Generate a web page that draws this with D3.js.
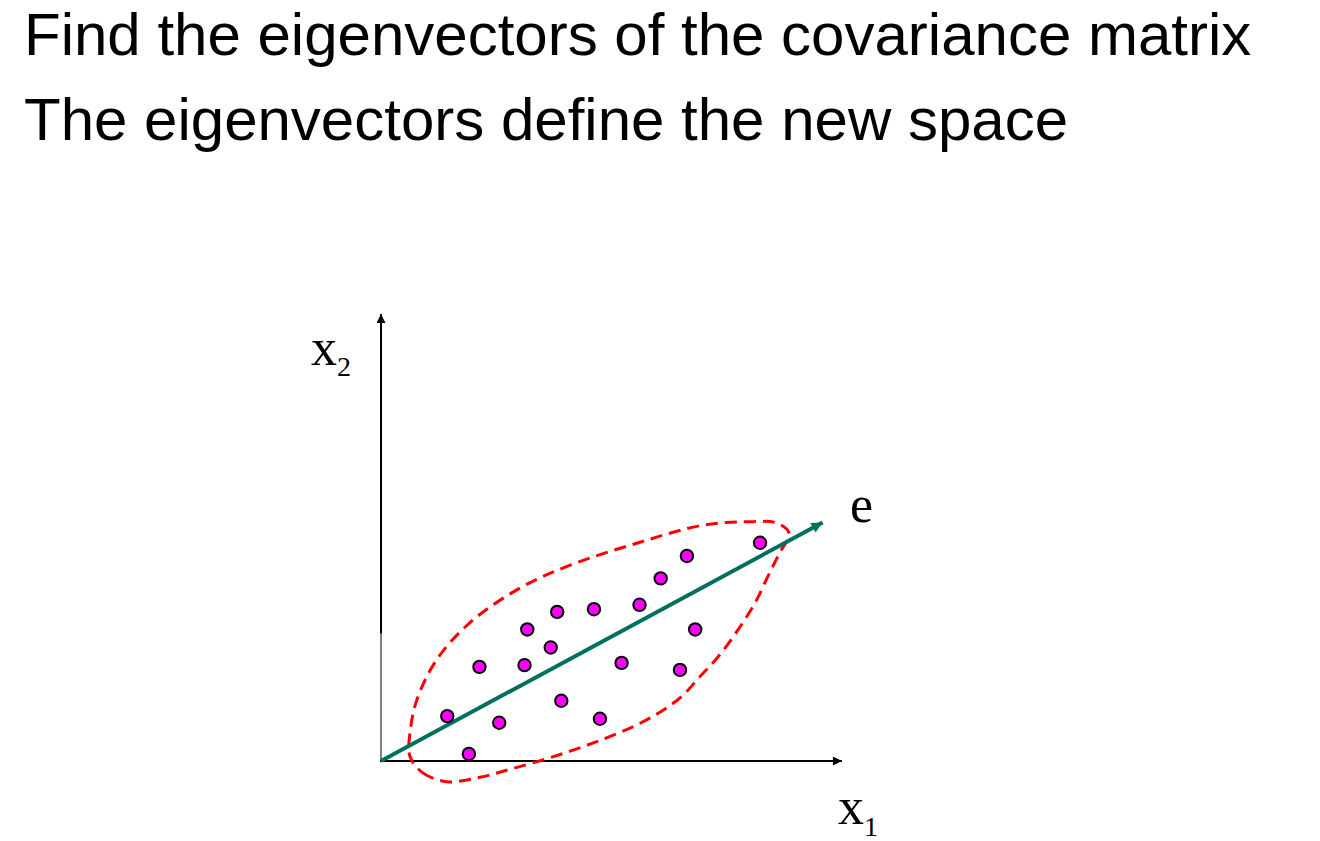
<!DOCTYPE html>
<html>
<head>
<meta charset="utf-8">
<script src="https://cdn.jsdelivr.net/npm/d3@7"></script>
<style>
  html, body { margin: 0; padding: 0; background: #ffffff; }
  svg { display: block; }
</style>
</head>
<body>
<svg id="chart" width="1320" height="841"></svg>
<script>
// ---- Data ----
const titleLines = ["Find the eigenvectors of the covariance matrix", "The eigenvectors define the new space"];

// scatter points (x1, x2) in data units
const pointsX = [82.4, 66.5, 60.8, 56.2, 46.3, 38.3, 31.8, 68.3, 36.9, 21.4, 31.2, 52.3, 65.0, 14.4, 25.7, 39.2, 47.6, 19.1];
const pointsY = [49.6, 46.6, 41.5, 35.5, 34.5, 33.9, 29.9, 29.9, 25.8, 21.4, 21.8, 22.3, 20.7, 10.2, 8.7, 13.7, 9.6, 1.6];

// dashed outline around the points
const outlineX = [6.3, 9.1, 14.3, 21.5, 28.0, 37.5, 46.9, 55.6, 61.4, 65.7, 69.0, 73.3, 77.6, 81.3, 83.9, 86.4, 88.7, 86.0, 80.9, 70.0, 55.6, 41.1, 30.2, 19.3, 12.1, 7.8, 6.3];
const outlineY = [1.0, -2.7, -4.7, -3.7, -1.9, 1.0, 4.4, 8.2, 11.6, 15.0, 18.8, 23.7, 29.8, 35.9, 41.5, 46.8, 51.8, 54.1, 54.4, 53.6, 49.5, 44.5, 39.3, 31.4, 23.0, 13.9, 6.4];

// eigenvector e from origin
const eigenStart = [0, 0];
const eigenEnd = [96.0, 54.2];

// axis extents
const axisMax = [100.2, 101.6];

// ---- Drawing ----
const svg = d3.select("#chart");

const x = d3.scaleLinear().domain([0, 100]).range([381, 841]);
const y = d3.scaleLinear().domain([0, 100]).range([761, 321]);

// title
svg.selectAll("text.title")
  .data(titleLines)
  .join("text")
  .attr("class", "title")
  .attr("x", 24)
  .attr("y", (d, i) => 55 + i * 85)
  .attr("font-family", "'Liberation Sans', Arial, sans-serif")
  .attr("font-size", 60)
  .attr("fill", "#000")
  .text(d => d);

// markers
const defs = svg.append("defs");
defs.append("marker")
  .attr("id", "blackArrow")
  .attr("markerUnits", "userSpaceOnUse")
  .attr("viewBox", "0 0 10 10")
  .attr("refX", 10).attr("refY", 5)
  .attr("markerWidth", 10).attr("markerHeight", 9)
  .attr("orient", "auto")
  .append("path").attr("d", "M0,0 L10,5 L0,10 Z").attr("fill", "#000");
defs.append("marker")
  .attr("id", "greenArrow")
  .attr("markerUnits", "userSpaceOnUse")
  .attr("viewBox", "0 0 10 10")
  .attr("refX", 10).attr("refY", 5)
  .attr("markerWidth", 15).attr("markerHeight", 11)
  .attr("orient", "auto")
  .append("path").attr("d", "M0,0 L10,5 L0,10 Z").attr("fill", "#00705E");

// axes
svg.append("line")
  .attr("x1", x(0)).attr("y1", y(0))
  .attr("x2", x(0)).attr("y2", y(29))
  .attr("stroke", "#555").attr("stroke-width", 1.5);
svg.append("line")
  .attr("x1", x(0)).attr("y1", y(29))
  .attr("x2", x(0)).attr("y2", y(axisMax[1]))
  .attr("stroke", "#000").attr("stroke-width", 2)
  .attr("marker-end", "url(#blackArrow)");
svg.append("line")
  .attr("x1", x(0) - 1).attr("y1", y(0))
  .attr("x2", x(axisMax[0])).attr("y2", y(0))
  .attr("stroke", "#000").attr("stroke-width", 2.2)
  .attr("marker-end", "url(#blackArrow)");

// dashed outline
const outline = outlineX.map((v, i) => [v, outlineY[i]]);
svg.append("path")
  .datum(outline)
  .attr("d", d3.line().x(d => x(d[0])).y(d => y(d[1])).curve(d3.curveCatmullRomClosed.alpha(0.5)))
  .attr("fill", "none")
  .attr("stroke", "#FF0000")
  .attr("stroke-width", 3)
  .attr("stroke-dasharray", "12,7");

// eigenvector
svg.append("line")
  .attr("x1", x(eigenStart[0])).attr("y1", y(eigenStart[1]))
  .attr("x2", x(eigenEnd[0])).attr("y2", y(eigenEnd[1]))
  .attr("stroke", "#00705E").attr("stroke-width", 4)
  .attr("marker-end", "url(#greenArrow)");

// points
const pts = pointsX.map((v, i) => [v, pointsY[i]]);
svg.selectAll("circle.pt")
  .data(pts)
  .join("circle")
  .attr("class", "pt")
  .attr("cx", d => x(d[0]))
  .attr("cy", d => y(d[1]))
  .attr("r", 6.2)
  .attr("fill", "#FF00FF")
  .attr("stroke", "#000")
  .attr("stroke-width", 2);

// labels
const serif = "'Liberation Serif', 'Times New Roman', serif";
function subLabel(xp, yp, main, sub, subDy) {
  const t = svg.append("text")
    .attr("x", xp).attr("y", yp)
    .attr("font-family", serif).attr("font-size", 52).attr("fill", "#000");
  t.append("tspan").text(main);
  t.append("tspan").attr("font-size", 28).attr("dy", subDy).text(sub);
}
subLabel(311, 365, "x", "2", 11);
subLabel(838, 824, "x", "1", 12);
svg.append("text")
  .attr("x", 850).attr("y", 522)
  .attr("font-family", serif).attr("font-size", 52).attr("fill", "#000")
  .text("e");
</script>
</body>
</html>
